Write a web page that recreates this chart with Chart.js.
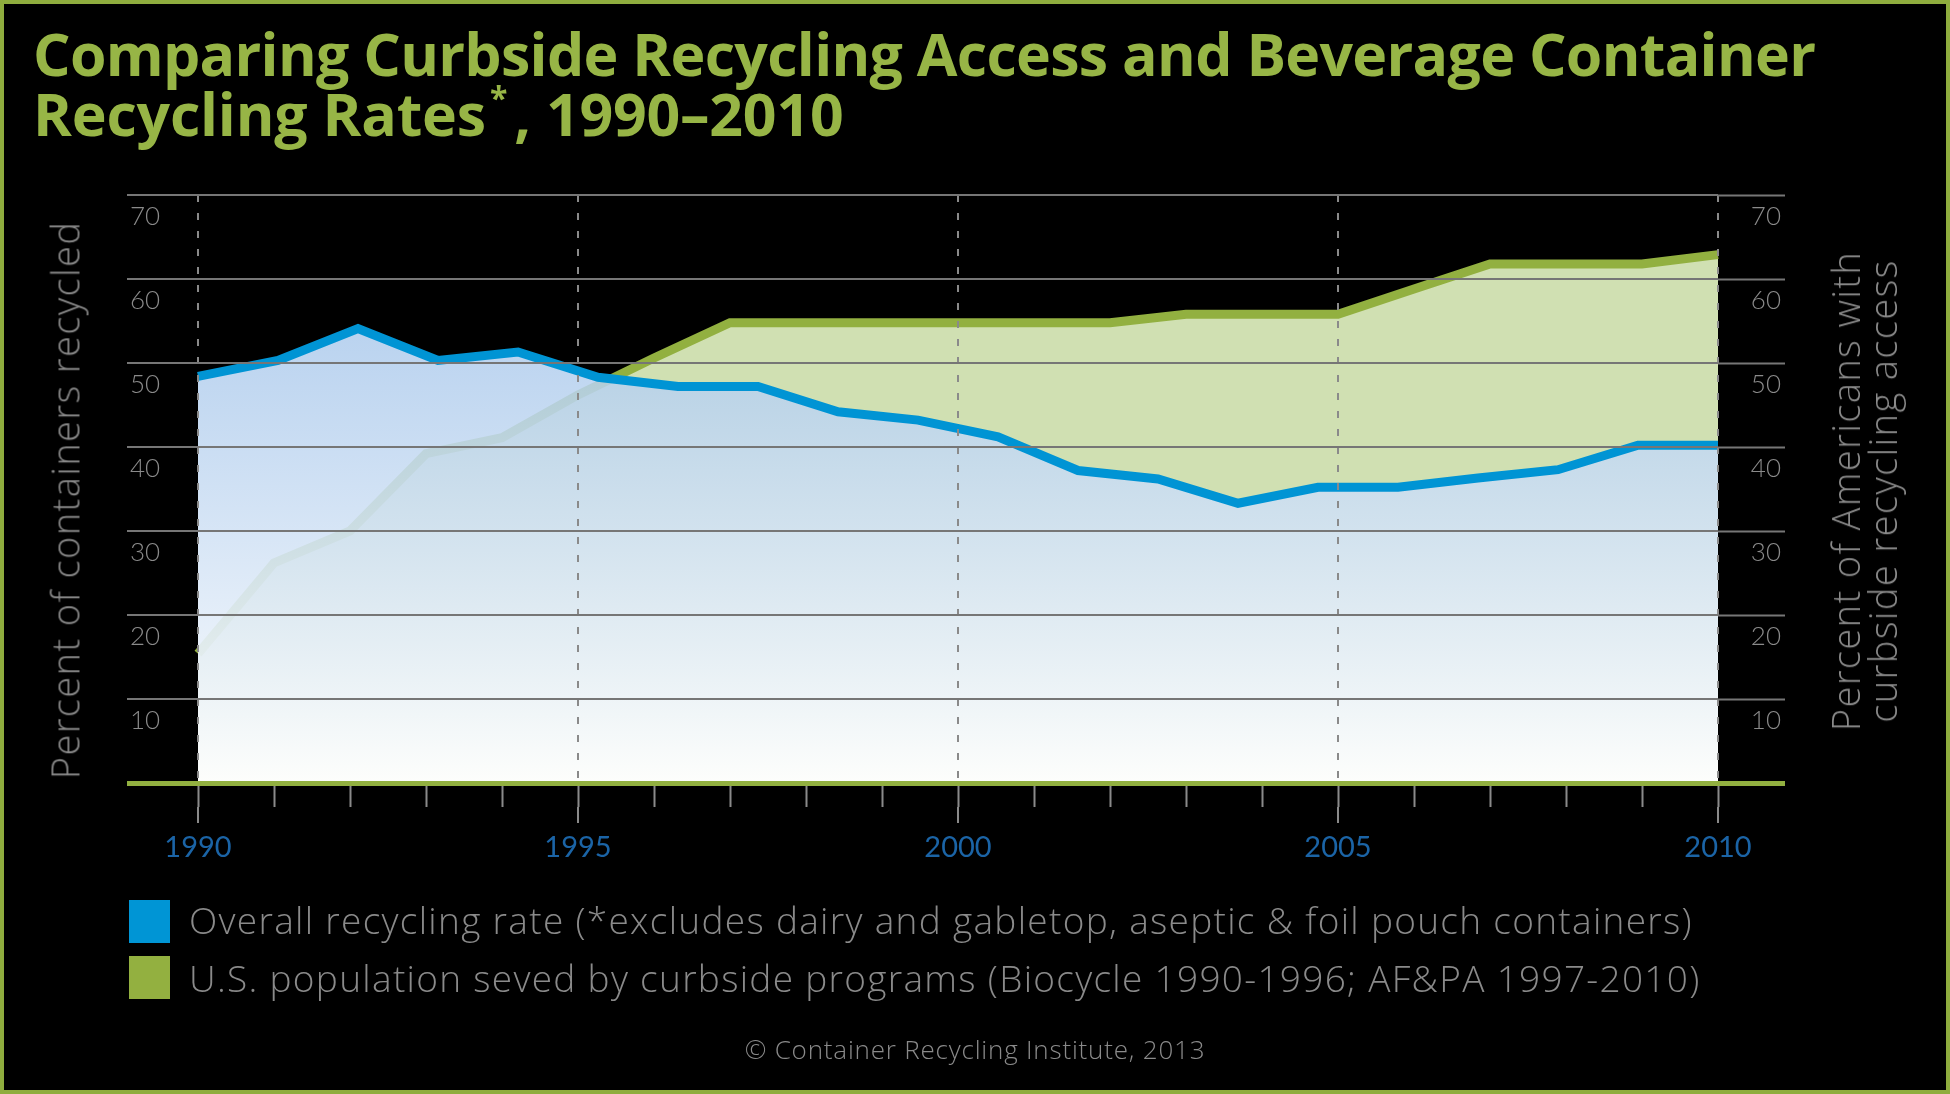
<!DOCTYPE html>
<html>
<head>
<meta charset="utf-8">
<title>Curbside Recycling Access and Beverage Container Recycling Rates</title>
<script src="https://cdn.jsdelivr.net/npm/chart.js@4.4.1/dist/chart.umd.min.js"></script>
<style>
  html, body { margin: 0; padding: 0; background: #000; }
  #wrap { position: relative; width: 1950px; height: 1094px; overflow: hidden; background: #000;
          font-family: "Open Sans", Lato, sans-serif; }
  #frame { position: absolute; left: 0; top: 0; right: 0; bottom: 0; border: 4px solid #8fad3e; pointer-events: none; }
  #chart { position: absolute; left: 0; top: 0; }
  .title { position: absolute; left: 33px; top: 23px; font-weight: 700; font-size: 59px; line-height: 60px;
           color: #97b546; white-space: nowrap; letter-spacing: -0.7px; }
  .title sup { font-size: 32px; vertical-align: 26px; line-height: 0; margin: 0 7px 0 4px; }
  .title .l2 { letter-spacing: -0.2px; }
  .axis-title { position: absolute; color: #8a8a8a; font-weight: 300; font-size: 38px; line-height: 37px;
                white-space: nowrap; text-align: center; letter-spacing: 1.4px;
                transform: translate(-50%, -50%) rotate(-90deg); }
  .swatch { position: absolute; left: 129px; width: 41px; height: 43px; }
  .legend-text { position: absolute; left: 189px; color: #8a8a8a; font-weight: 300; font-size: 37px;
                 line-height: 40px; white-space: nowrap; letter-spacing: 1.3px; }
  .footer { position: absolute; left: 0; width: 1950px; top: 1035px; text-align: center; color: #8a8a8a;
            font-weight: 300; font-size: 26px; line-height: 28px; letter-spacing: 0.8px; }
</style>
</head>
<body>
<div id="wrap">
  <canvas id="chart" width="1950" height="1094"></canvas>
  <div class="title">Comparing Curbside Recycling Access and Beverage Container<br><span class="l2">Recycling Rates<sup>*</sup>, 1990–2010</span></div>
  <div class="axis-title" style="left:65px; top:500px;">Percent of containers recycled</div>
  <div class="axis-title" style="left:1864px; top:491px;">Percent of Americans with<br>curbside recycling access</div>
  <div class="swatch" style="top:900px; background:#0095d5;"></div>
  <div class="legend-text" style="top:900px;">Overall recycling rate (*excludes dairy and gabletop, aseptic &amp; foil pouch containers)</div>
  <div class="swatch" style="top:956px; background:#93b040;"></div>
  <div class="legend-text" style="top:958px;">U.S. population seved by curbside programs (Biocycle 1990-1996; AF&amp;PA 1997-2010)</div>
  <div class="footer">© Container Recycling Institute, 2013</div>
  <div id="frame"></div>
</div>

<script>
// ---------- Data ----------
// years on the visible axis (curbside access is given for each of them)
const yearLabels = ['1990', '1991', '1992', '1993', '1994', '1995', '1996', '1997', '1998', '1999', '2000',
                    '2001', '2002', '2003', '2004', '2005', '2006', '2007', '2008', '2009', '2010'];
const majorYears = ['1990', '1995', '2000', '2005', '2010'];

// the recycling-rate line has 20 readings spread evenly from 1990 to 2010 in the original
const rateLabels = ['r01', 'r02', 'r03', 'r04', 'r05', 'r06', 'r07', 'r08', 'r09', 'r10',
                    'r11', 'r12', 'r13', 'r14', 'r15', 'r16', 'r17', 'r18', 'r19', 'r20'];
const rateValues = [48.4, 50.3, 54.1, 50.3, 51.3, 48.3, 47.2, 47.2, 44.2, 43.2,
                    41.2, 37.2, 36.2, 33.3, 35.2, 35.2, 36.3, 37.3, 40.2, 40.2];

// % of Americans with curbside access, 1990-2010
const accessValues = [15.4, 26.2, 30.0, 39.2, 41.1, 46.2, 50.6, 54.8, 54.8, 54.8, 54.8,
                      54.8, 54.8, 55.8, 55.8, 55.8, 58.8, 61.8, 61.8, 61.8, 62.9];

// ---------- Styles ----------
const GREEN = '#92b040';
const BLUE = '#0094d4';
const GRID = '#767676';
const TICK_GRAY = '#8a8a8a';
const tickFont = { family: 'Lato', size: 26, weight: '300' };

// blue area: gradient, a bit see-through so the green area/line show under it
function rateFill(context) {
  const { chart } = context;
  const area = chart.chartArea;
  if (!area) return 'rgba(154,190,231,0.85)';
  const g = chart.ctx.createLinearGradient(0, area.top, 0, area.bottom);
  g.addColorStop(0, 'rgba(150,188,231,0.82)');
  g.addColorStop(1, 'rgba(255,255,255,0.96)');
  return g;
}

const isMajor = (ctx) => majorYears.includes(yearLabels[ctx.index]);
const hGridColor = (ctx) => (ctx.tick && ctx.tick.value === 0 ? GREEN : GRID);
const hGridWidth = (ctx) => (ctx.tick && ctx.tick.value === 0 ? 5 : 2);

// ---------- Chart ----------
new Chart(document.getElementById('chart'), {
  type: 'line',
  data: {
    labels: yearLabels,
    datasets: [
      {
        label: 'Overall recycling rate',
        data: rateValues,
        xAxisID: 'xRate',
        yAxisID: 'y',
        borderColor: BLUE,
        borderWidth: 9,
        borderJoinStyle: 'miter',
        backgroundColor: rateFill,
        fill: 'origin',
        pointRadius: 0,
        tension: 0
      },
      {
        label: 'U.S. population seved by curbside programs',
        data: accessValues,
        xAxisID: 'x',
        yAxisID: 'y',
        borderColor: GREEN,
        borderWidth: 9,
        borderJoinStyle: 'miter',
        backgroundColor: '#d0e0b2',
        fill: 'origin',
        pointRadius: 0,
        tension: 0
      },
      {
        // white base under the recycling-rate area
        label: 'rate base',
        data: rateValues,
        xAxisID: 'xRate',
        yAxisID: 'y',
        borderWidth: 0,
        backgroundColor: '#ffffff',
        fill: 'origin',
        pointRadius: 0
      }
    ]
  },
  options: {
    responsive: false,
    maintainAspectRatio: false,
    animation: false,
    layout: { padding: { left: 130, right: 169, top: 195, bottom: 227 } },
    plugins: { legend: { display: false }, tooltip: { enabled: false } },
    scales: {
      x: {
        type: 'category',
        position: 'bottom',
        weight: 0,
        offset: false,
        ticks: { display: false },
        grid: { drawOnChartArea: false, tickLength: 24, tickColor: TICK_GRAY, tickWidth: 2, z: 1 },
        border: { display: false }
      },
      xMajor: {
        type: 'category',
        labels: yearLabels,
        position: 'bottom',
        weight: 1,
        offset: false,
        ticks: {
          autoSkip: false,
          maxRotation: 0,
          padding: 7,
          color: '#1b64a6',
          font: { family: 'Lato', size: 29, weight: '400' },
          callback: (v, i) => (majorYears.includes(yearLabels[i]) ? yearLabels[i] : '')
        },
        grid: {
          color: (ctx) => (isMajor(ctx) ? TICK_GRAY : 'transparent'),
          lineWidth: 2,
          tickLength: 16,
          tickColor: (ctx) => (isMajor(ctx) ? TICK_GRAY : 'transparent'),
          tickWidth: 2,
          z: 1
        },
        border: { display: false, dash: [7, 11] },
        afterFit: (s) => { s.height = 60; }
      },
      xRate: {
        type: 'category',
        labels: rateLabels,
        display: false,
        offset: false
      },
      y: {
        position: 'left',
        min: 0,
        max: 70,
        ticks: {
          stepSize: 10,
          crossAlign: 'far',
          labelOffset: 22,
          color: TICK_GRAY,
          font: tickFont,
          callback: (v) => (v === 0 ? '' : v)
        },
        grid: {
          color: hGridColor,
          lineWidth: hGridWidth,
          tickColor: hGridColor,
          tickWidth: hGridWidth,
          tickLength: 71,
          z: 1
        },
        border: { display: false },
        afterFit: (s) => { s.width = 68; }
      },
      y2: {
        position: 'right',
        min: 0,
        max: 70,
        ticks: {
          stepSize: 10,
          crossAlign: 'far',
          labelOffset: 22,
          color: TICK_GRAY,
          font: tickFont,
          callback: (v) => (v === 0 ? '' : v)
        },
        grid: {
          drawOnChartArea: false,
          tickColor: hGridColor,
          tickWidth: hGridWidth,
          tickLength: 67,
          z: 1
        },
        border: { display: false },
        afterFit: (s) => { s.width = 63; }
      }
    }
  }
});
</script>
</body>
</html>
